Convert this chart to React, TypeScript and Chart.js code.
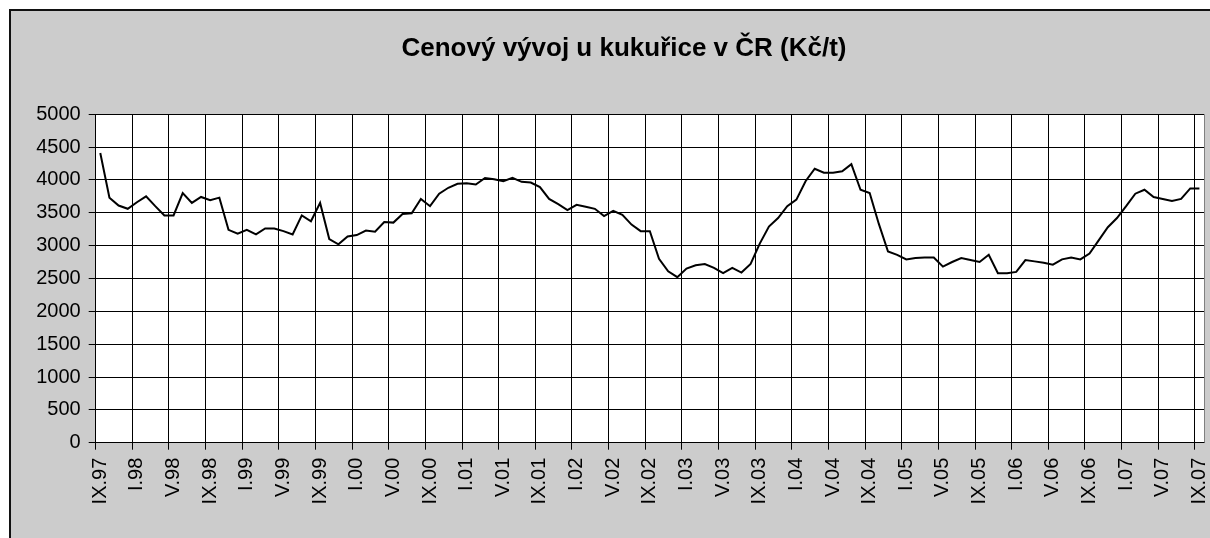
import React, { useEffect, useRef } from "react";
import { Chart, registerables } from "chart.js";

Chart.register(...registerables);

const TITLE = "Cenový vývoj u kukuřice v ČR (Kč/t)";

// Roman month names used for the category labels (month.year)
const romanMonths = ["I", "II", "III", "IV", "V", "VI", "VII", "VIII", "IX", "X", "XI", "XII"];
const startMonthIndex = 8; // IX
const startYear = 1997;

// Labels shown on the axis, every fourth month
const tickLabels = [
  "IX.97", "I.98", "V.98", "IX.98", "I.99", "V.99", "IX.99", "I.00", "V.00", "IX.00",
  "I.01", "V.01", "IX.01", "I.02", "V.02", "IX.02", "I.03", "V.03", "IX.03", "I.04",
  "V.04", "IX.04", "I.05", "V.05", "IX.05", "I.06", "V.06", "IX.06", "I.07", "V.07", "IX.07",
];

// Monthly maize price, Kč/t (IX.97 .. IX.07)
const prices = [
  4410, 3730, 3610, 3560, 3660, 3750, 3600, 3460, 3460, 3800,
  3650, 3740, 3690, 3730, 3240, 3180, 3240, 3170, 3260, 3260,
  3220, 3170, 3460, 3370, 3650, 3100, 3020, 3140, 3160, 3230,
  3210, 3360, 3350, 3480, 3490, 3710, 3600, 3790, 3880, 3940,
  3950, 3930, 4030, 4010, 3980, 4030, 3970, 3960, 3890, 3710,
  3630, 3540, 3620, 3590, 3560, 3450, 3530, 3470, 3320, 3220,
  3220, 2800, 2610, 2520, 2650, 2700, 2720, 2660, 2580, 2660,
  2590, 2720, 3030, 3290, 3420, 3600, 3700, 3980, 4170, 4110,
  4110, 4130, 4240, 3850, 3800, 3330, 2910, 2860, 2790, 2810,
  2820, 2820, 2680, 2750, 2810, 2780, 2750, 2860, 2580, 2580,
  2600, 2780, 2760, 2740, 2710, 2790, 2820, 2790, 2880, 3080,
  3280, 3420, 3600, 3790, 3850, 3740, 3710, 3680, 3710, 3870,
  3870,
];

const yMin = 0;
const yMax = 5000;
const yStep = 500;

const categories = prices.map((_, i) => {
  const m = (startMonthIndex + i) % 12;
  const y = (startYear + Math.floor((startMonthIndex + i) / 12)) % 100;
  return romanMonths[m] + "." + String(y).padStart(2, "0");
});

const FONT = "'Liberation Sans', Arial, sans-serif";

const plotFrame = {
  id: "plotFrame",
  beforeDraw(chart: any) {
    const { ctx, chartArea } = chart;
    ctx.save();
    ctx.fillStyle = "#ffffff";
    ctx.fillRect(chartArea.left, chartArea.top, chartArea.right - chartArea.left, chartArea.bottom - chartArea.top);
    ctx.restore();
  },
  afterDraw(chart: any) {
    const { ctx, chartArea } = chart;
    ctx.save();
    ctx.strokeStyle = "#808080";
    ctx.lineWidth = 1;
    ctx.beginPath();
    const x = Math.round(chartArea.right) + 0.5;
    ctx.moveTo(x, chartArea.top);
    ctx.lineTo(x, chartArea.bottom);
    ctx.stroke();
    ctx.restore();
  },
};

export default function App() {
  const canvasRef = useRef<HTMLCanvasElement | null>(null);

  useEffect(() => {
    if (!canvasRef.current) return;
    const chart = new Chart(canvasRef.current, {
      type: "line",
      data: {
        labels: categories,
        datasets: [
          {
            data: prices,
            borderColor: "#000000",
            borderWidth: 2,
            pointRadius: 0,
            tension: 0,
            fill: false,
            yAxisID: "y",
          },
        ],
      },
      plugins: [plotFrame],
      options: {
        responsive: false,
        animation: false,
        devicePixelRatio: 1,
        layout: { padding: 0 },
        plugins: {
          legend: { display: false },
          tooltip: { enabled: false },
          title: {
            display: true,
            text: TITLE,
            color: "#000000",
            font: { family: FONT, size: 26, weight: "bold" },
            padding: { top: 22, bottom: 50 },
          },
        },
        scales: {
          x: {
            type: "category",
            offset: true,
            afterFit(scale: any) {
              scale.height = 95.3;
            },
            grid: {
              offset: true,
              drawOnChartArea: true,
              tickLength: 7,
              lineWidth: 1,
              color: (ctx: any) =>
                typeof ctx.index === "number" && ctx.index % 4 === 0 ? "#000000" : "rgba(0,0,0,0)",
            },
            border: { display: true, color: "#000000", width: 1 },
            ticks: {
              autoSkip: false,
              maxRotation: 90,
              minRotation: 90,
              padding: 8,
              color: "#000000",
              font: { family: FONT, size: 20 },
              callback: (_v: any, index: number) => (index % 4 === 0 ? tickLabels[index / 4] : ""),
            },
          },
          y: {
            position: "left",
            min: yMin,
            max: yMax,
            afterFit(scale: any) {
              scale.width = 84.7;
            },
            grid: { color: "#000000", lineWidth: 1, tickLength: 7 },
            border: { display: true, color: "#000000", width: 1 },
            ticks: {
              stepSize: yStep,
              padding: 8,
              color: "#000000",
              font: { family: FONT, size: 20 },
              callback: (v: any) => String(v),
            },
          },
          yRight: {
            position: "right",
            display: true,
            min: yMin,
            max: yMax,
            afterFit(scale: any) {
              scale.width = 33;
            },
            grid: { display: false, drawOnChartArea: false, drawTicks: false },
            border: { display: false },
            ticks: { display: false },
          },
        },
      },
    } as any);
    return () => chart.destroy();
  }, []);

  return (
    <div
      style={{
        position: "absolute",
        left: 0,
        top: 0,
        width: 1210,
        height: 538,
        overflow: "hidden",
        background: "#ffffff",
      }}
    >
      <div
        style={{
          position: "absolute",
          left: 9,
          top: 9,
          width: 1240,
          height: 560,
          background: "#cccccc",
          borderLeft: "2px solid #111111",
          borderTop: "2px solid #111111",
        }}
      />
      <canvas
        ref={canvasRef}
        width={1226}
        height={527}
        style={{ position: "absolute", left: 11, top: 11, width: 1226, height: 527 }}
      />
    </div>
  );
}
